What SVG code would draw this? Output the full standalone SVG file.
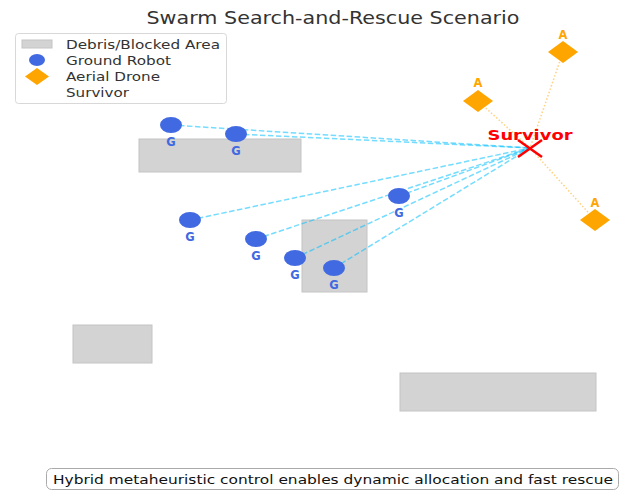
<svg xmlns="http://www.w3.org/2000/svg" width="620" height="491" viewBox="0 0 620 491">
<style>
text{font-family:"DejaVu Sans","Liberation Sans",sans-serif}
.debris{fill:#d3d3d3;stroke:#c4c4c4;stroke-width:1}
.robot{fill:#4169e1}
.rl{fill:#4169e1;font-size:11.5px;font-weight:bold;text-anchor:middle}
.drone{fill:#ffa500}
.dl{fill:#ffa500;font-size:11.5px;font-weight:bold;text-anchor:middle}
.gline{stroke:#00bfff;stroke-opacity:0.55;stroke-width:1.5;stroke-dasharray:5.5,2.5;fill:none}
.aline{stroke:#ffa500;stroke-opacity:0.5;stroke-width:1.5;stroke-dasharray:1.5,2;fill:none}
.leg{font-size:13px;fill:#333}
</style>
<rect width="620" height="491" fill="#fff"/>
<text x="333" y="24" font-size="17" fill="#333" text-anchor="middle" textLength="373" lengthAdjust="spacingAndGlyphs">Swarm Search-and-Rescue Scenario</text>

<g id="debris">
<rect id="debris1" class="debris" x="139" y="139" width="162" height="33"/>
<rect id="debris2" class="debris" x="302" y="220" width="65" height="72"/>
<rect id="debris3" class="debris" x="73" y="325" width="79" height="38"/>
<rect id="debris4" class="debris" x="400" y="373" width="196" height="38"/>
</g>

<g id="connectors">
<line class="gline" x1="171" y1="125" x2="530" y2="148"/>
<line class="gline" x1="236" y1="134" x2="530" y2="148"/>
<line class="gline" x1="399" y1="196" x2="530" y2="148"/>
<line class="gline" x1="190" y1="220" x2="530" y2="148"/>
<line class="gline" x1="256" y1="239" x2="530" y2="148"/>
<line class="gline" x1="295" y1="258" x2="530" y2="148"/>
<line class="gline" x1="334" y1="268" x2="530" y2="148"/>
<line class="aline" x1="563" y1="52" x2="530" y2="148"/>
<line class="aline" x1="478" y1="101" x2="530" y2="148"/>
<line class="aline" x1="595" y1="220" x2="530" y2="148"/>
</g>

<g id="robot1"><ellipse class="robot" cx="171" cy="125" rx="11" ry="8"/><text class="rl" x="171" y="146">G</text></g>
<g id="robot2"><ellipse class="robot" cx="236" cy="134" rx="11" ry="8"/><text class="rl" x="236" y="155">G</text></g>
<g id="robot3"><ellipse class="robot" cx="399" cy="196" rx="11" ry="8"/><text class="rl" x="399" y="217">G</text></g>
<g id="robot4"><ellipse class="robot" cx="190" cy="220" rx="11" ry="8"/><text class="rl" x="190" y="241">G</text></g>
<g id="robot5"><ellipse class="robot" cx="256" cy="239" rx="11" ry="8"/><text class="rl" x="256" y="260">G</text></g>
<g id="robot6"><ellipse class="robot" cx="295" cy="258" rx="11" ry="8"/><text class="rl" x="295" y="279">G</text></g>
<g id="robot7"><ellipse class="robot" cx="334" cy="268" rx="11" ry="8"/><text class="rl" x="334" y="289">G</text></g>

<g id="drone1"><polygon class="drone" points="563,41 578,52 563,63 548,52"/><text class="dl" x="563" y="39">A</text></g>
<g id="drone2"><polygon class="drone" points="478,90 493,101 478,112 463,101"/><text class="dl" x="478" y="87">A</text></g>
<g id="drone3"><polygon class="drone" points="595,209 610,220 595,231 580,220"/><text class="dl" x="595" y="207">A</text></g>

<g id="survivor">
<path d="M518,140 L542,157 M518,157 L542,140" stroke="#ff0000" stroke-width="2.5" fill="none"/>
<text x="530" y="140" font-size="14" font-weight="bold" fill="#ff0000" text-anchor="middle" textLength="85" lengthAdjust="spacingAndGlyphs">Survivor</text>
</g>

<g id="legend">
<rect x="15.5" y="33.5" width="211" height="70" rx="3" fill="#fff" fill-opacity="0.8" stroke="#d8d8d8"/>
<rect x="22" y="40" width="30" height="8" class="debris"/>
<text class="leg" x="66" y="49" textLength="154" lengthAdjust="spacingAndGlyphs">Debris/Blocked Area</text>
<ellipse class="robot" cx="37" cy="60" rx="8" ry="6"/>
<text class="leg" x="66" y="65" textLength="105" lengthAdjust="spacingAndGlyphs">Ground Robot</text>
<polygon class="drone" points="37,68 49,76.5 37,85 25,76.5"/>
<text class="leg" x="66" y="81" textLength="94" lengthAdjust="spacingAndGlyphs">Aerial Drone</text>
<text class="leg" x="66" y="97" textLength="63" lengthAdjust="spacingAndGlyphs">Survivor</text>
</g>

<g id="caption">
<rect x="46.5" y="468.5" width="572" height="21" rx="5" fill="#fff" stroke="#aaaaaa"/>
<text x="333" y="484" font-size="13" fill="#111" text-anchor="middle" textLength="560" lengthAdjust="spacingAndGlyphs">Hybrid metaheuristic control enables dynamic allocation and fast rescue</text>
</g>
</svg>
